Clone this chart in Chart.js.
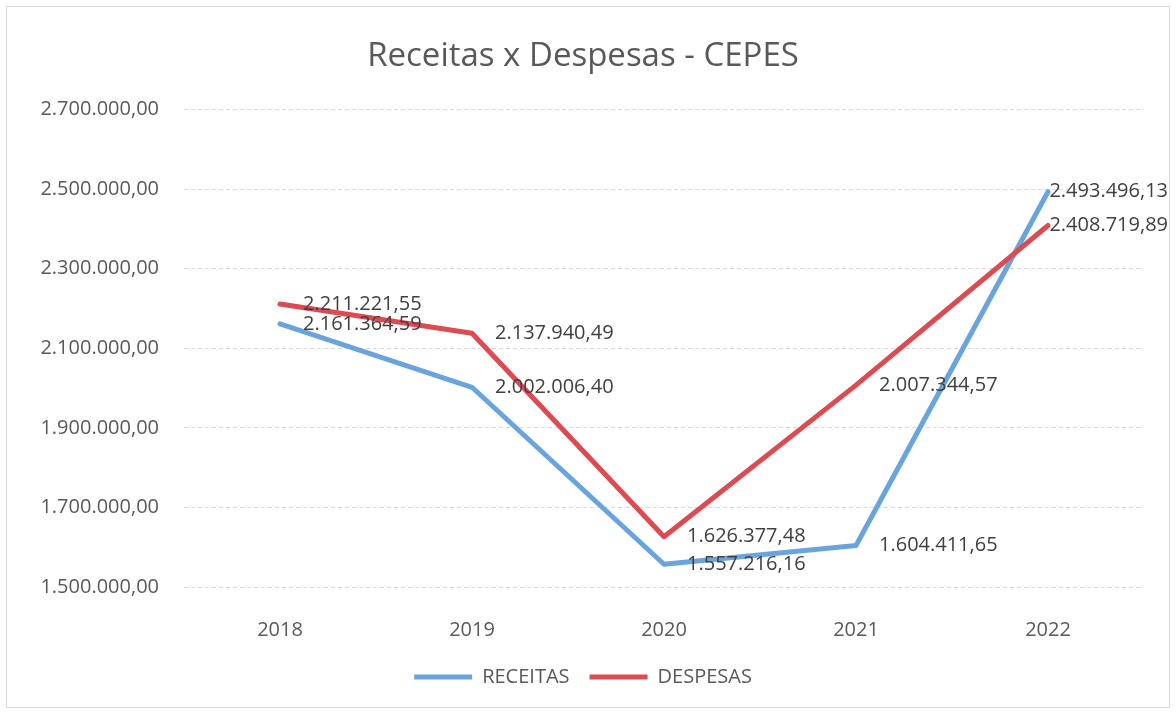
<!DOCTYPE html>
<html>
<head>
<meta charset="utf-8">
<script src="https://cdn.jsdelivr.net/npm/chart.js@4.4.1/dist/chart.umd.min.js"></script>
<style>
  html, body { margin: 0; padding: 0; background: #fff; }
  #moldura { position: absolute; left: 6px; top: 6px; width: 1162px; height: 700px; border: 1px solid #d9d9d9; }
  #area { position: absolute; left: 0; top: 0; width: 1176px; height: 714px; }
</style>
</head>
<body>
<div id="moldura"></div>
<div id="area"><canvas id="grafico"></canvas></div>
<script>
// Dados do gráfico
const anos = ['2018', '2019', '2020', '2021', '2022'];
const receitas = [2161364.59, 2002006.40, 1557216.16, 1604411.65, 2493496.13];
const despesas = [2211221.55, 2137940.49, 1626377.48, 2007344.57, 2408719.89];
const eixoMin = 1500000;
const eixoMax = 2700000;
const eixoPasso = 200000;

// formato 1.234.567,89
function formatar(v) {
    const partes = Number(v).toFixed(2).split('.');
    const inteiro = partes[0].replace(/\B(?=(\d{3})+(?!\d))/g, '.');
    return inteiro + ',' + partes[1];
}

Chart.defaults.font.family = '"Open Sans", sans-serif';

// Rótulos de dados à direita de cada ponto
const rotulosPlugin = {
    id: 'rotulos',
    afterDatasetsDraw(chart) {
        const ctx = chart.ctx;
        ctx.save();
        ctx.font = '20px "Open Sans", sans-serif';
        ctx.fillStyle = '#404040';
        ctx.textBaseline = 'middle';
        ctx.textAlign = 'left';
        chart.data.datasets.forEach((ds, i) => {
            const meta = chart.getDatasetMeta(i);
            meta.data.forEach((pt, j) => {
                const txt = formatar(ds.data[j]);
                const w = ctx.measureText(txt).width;
                let x = pt.x + 23;
                if (x + w > chart.width - 8) x = chart.width - 8 - w;
                ctx.fillText(txt, x, pt.y);
            });
        });
        ctx.restore();
    }
};

new Chart(document.getElementById('grafico'), {
    type: 'line',
    data: {
        labels: anos,
        datasets: [
            {
                label: 'RECEITAS',
                data: receitas,
                borderColor: '#6aa4dc',
                backgroundColor: '#6aa4dc',
                borderWidth: 5,
                borderCapStyle: 'round',
                borderJoinStyle: 'round',
                pointRadius: 0,
                tension: 0,
                order: 1
            },
            {
                label: 'DESPESAS',
                data: despesas,
                borderColor: '#dc4b52',
                backgroundColor: '#dc4b52',
                borderWidth: 5,
                borderCapStyle: 'round',
                borderJoinStyle: 'round',
                pointRadius: 0,
                tension: 0,
                order: 0
            }
        ]
    },
    options: {
        responsive: true,
        maintainAspectRatio: false,
        animation: false,
        layout: {
            padding: { left: 22, right: 32, top: 0, bottom: 17 }
        },
        plugins: {
            title: {
                display: true,
                text: 'Receitas x Despesas - CEPES',
                color: '#595959',
                font: { size: 33, weight: 'normal' },
                padding: { top: 37, bottom: 33 }
            },
            legend: {
                position: 'bottom',
                labels: {
                    usePointStyle: true,
                    pointStyle: 'line',
                    pointStyleWidth: 58,
                    color: '#595959',
                    font: { size: 20 },
                    padding: 20,
                    sort: (a, b) => a.datasetIndex - b.datasetIndex
                }
            },
            tooltip: { enabled: false }
        },
        scales: {
            x: {
                offset: true,
                grid: { display: false },
                border: { display: false },
                ticks: { color: '#595959', font: { size: 20 }, padding: 23 },
                afterFit(s) { s.height = 60; }
            },
            y: {
                min: eixoMin,
                max: eixoMax,
                grid: { color: '#d9d9d9', drawTicks: false },
                border: { display: false, dash: [4, 3] },
                ticks: {
                    stepSize: eixoPasso,
                    color: '#595959',
                    font: { size: 20 },
                    padding: 25,
                    callback: function(value) {
                        return formatar(value);
                    }
                },
                afterFit(s) { s.width = 162; }
            }
        }
    },
    plugins: [rotulosPlugin]
});
</script>
</body>
</html>
